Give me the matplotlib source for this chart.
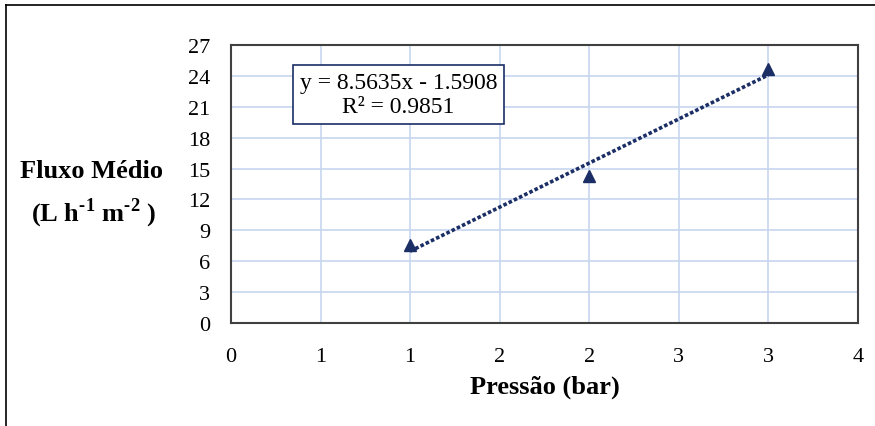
import numpy as np
import matplotlib
matplotlib.use("Agg")
import matplotlib.pyplot as plt
from matplotlib.lines import Line2D

plt.rcParams['font.family'] = ['Liberation Serif', 'DejaVu Serif']
plt.rcParams['mathtext.fontset'] = 'custom'
plt.rcParams['mathtext.rm'] = 'Liberation Serif:bold'
plt.rcParams['mathtext.bf'] = 'Liberation Serif:bold'

# data
pressure = [1, 2, 3]
flux = [7.58, 14.32, 24.71]
x_ticks = [0, 0.5, 1, 1.5, 2, 2.5, 3, 3.5]
x_ticklabels = ["0", "1", "1", "2", "2", "3", "3", "4"]
y_ticks = [0, 3, 6, 9, 12, 15, 18, 21, 24, 27]
eq_text = "y = 8.5635x - 1.5908\nR² = 0.9851"

W, H = 875, 427
fig = plt.figure(figsize=(W / 100, H / 100), dpi=100)
ax = fig.add_axes([231 / W, 1 - 324 / H, (858 - 231) / W, (324 - 46) / H])

navy = "#1b2f66"
grid_c = "#c7d5ef"

# trendline
coef = np.polyfit(pressure, flux, 1)
xt = np.array([min(pressure), max(pressure)])
ax.plot(xt, np.polyval(coef, xt), linestyle=(0, (1, 0.6)), color=navy, lw=2.6, zorder=3)
ax.plot(pressure, flux, linestyle="none", marker="^", ms=8.5, color=navy, zorder=4)

ax.set_xlim(0, 3.5)
ax.set_ylim(0, 27)
ax.set_xticks(x_ticks)
ax.set_xticklabels(x_ticklabels)
ax.set_yticks(y_ticks)
ax.tick_params(length=0, labelsize=16, colors="black")
ax.tick_params(axis='y', pad=15)
ax.tick_params(axis='x', pad=17)
ax.grid(True, color=grid_c, lw=1.2)
ax.set_axisbelow(True)
for s in ax.spines.values():
    s.set_color("#404040")
    s.set_linewidth(1.5)

fig.text(545 / W, 1 - 387 / H, "Pressão (bar)", fontsize=19, fontweight="bold",
         ha="center", va="center")
fig.text(92 / W, 1 - 172 / H, "Fluxo Médio", fontsize=19, fontweight="bold",
         ha="center", va="center")
fig.text(94 / W, 1 - 213 / H, "(L h$^{\\text{-1}}$ m$^{\\text{-2}}$ )", fontsize=19,
         fontweight="bold", ha="center", va="center")

ax.text(0.383, 22.2, eq_text, fontsize=17, ha="left", va="center", multialignment="center",
        linespacing=1.2,
        bbox=dict(boxstyle="square,pad=0.3", fc="white", ec=navy, lw=1.2), zorder=5)

# outer frame (left and top)
fig.add_artist(Line2D([6 / W, 6 / W], [0, 1 - 6 / H], color="black", lw=1.2))
fig.add_artist(Line2D([6 / W, 1], [1 - 6 / H, 1 - 6 / H], color="black", lw=1.2))

fig.savefig("out.png", dpi=100)
